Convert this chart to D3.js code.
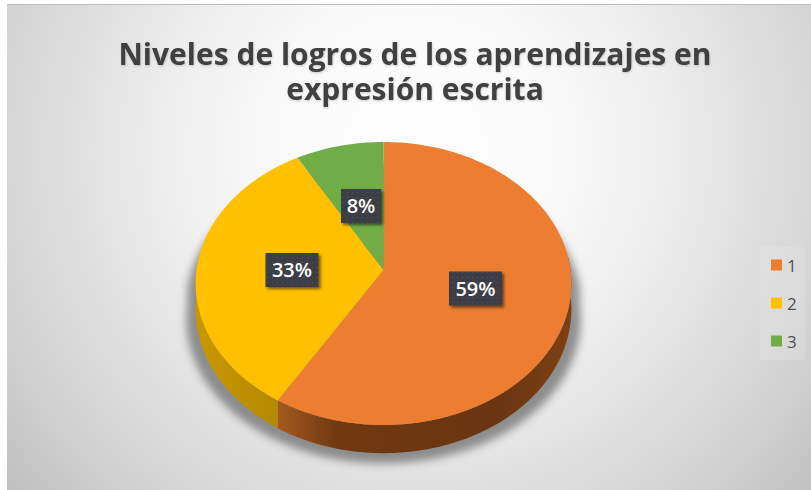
<!DOCTYPE html>
<html><head><meta charset="utf-8">
<script src="https://cdnjs.cloudflare.com/ajax/libs/d3/7.8.5/d3.min.js"></script>
<style>html,body{margin:0;padding:0;background:#fff}svg{display:block}</style>
</head><body><svg id="c" width="811" height="490"></svg>
<script>
const categories = ["1", "2", "3"];
const values = [58.7, 33, 8.3];
const labels = ["59%", "33%", "8%"];
const colors = ["#ed7d31", "#ffc000", "#70ad47"];
const titleLines = ["Niveles de logros de los aprendizajes en", "expresión escrita"];

const svg = d3.select("#c");
const defs = svg.append("defs");
const bg = defs.append("radialGradient").attr("id","bg").attr("gradientUnits","userSpaceOnUse")
  .attr("cx",415).attr("cy",150).attr("r",525);
[[0,"#ffffff"],[0.3,"#f8f8f8"],[0.5,"#ececec"],[0.68,"#dddddd"],[0.83,"#d2d2d2"],[1,"#c0c0c0"]]
  .forEach(s=>bg.append("stop").attr("offset",s[0]).attr("stop-color",s[1]));
const mk=(id,stops)=>{const g=defs.append("linearGradient").attr("id",id).attr("gradientUnits","userSpaceOnUse")
  .attr("x1",195).attr("x2",572).attr("y1",0).attr("y2",0);
  stops.forEach(s=>g.append("stop").attr("offset",s[0]).attr("stop-color",s[1]));};
mk("sideO",[[0.22,"#a5591f"],[0.38,"#70380f"],[0.8,"#6a3511"],[1,"#7d4014"]]);
mk("sideY",[[0,"#c99800"],[0.22,"#b48a00"]]);
defs.append("filter").attr("id","blur").attr("x","-20%").attr("y","-20%").attr("width","140%").attr("height","140%")
  .append("feGaussianBlur").attr("stdDeviation",4);
const ds=defs.append("filter").attr("id","ds").attr("x","-20%").attr("y","-20%").attr("width","150%").attr("height","150%");
ds.append("feDropShadow").attr("dx",2).attr("dy",2).attr("stdDeviation",1.6).attr("flood-color","#000").attr("flood-opacity",0.55);
const ts=defs.append("filter").attr("id","ts").attr("x","-5%").attr("y","-20%").attr("width","110%").attr("height","140%");
ts.append("feDropShadow").attr("dx",0.5).attr("dy",1).attr("stdDeviation",1).attr("flood-color","#000").attr("flood-opacity",0.2);
const pat=defs.append("pattern").attr("id","dots").attr("patternUnits","userSpaceOnUse").attr("width",5).attr("height",5);
pat.append("rect").attr("width",5).attr("height",5).attr("fill","#3c3e44");
pat.append("rect").attr("x",2).attr("y",2).attr("width",1).attr("height",1).attr("fill","#55585f");

svg.append("rect").attr("x",7).attr("y",4).attr("width",804).attr("height",486).attr("fill","url(#bg)");
svg.append("rect").attr("x",7).attr("y",4).attr("width",804).attr("height",1).attr("fill","#bdbdbd");

// Perspective disc
const cx=383.5, cy=270, R=187, S=140.2, k=0.0954, depth=25.5;
const proj=(a,r,d=0)=>{const u=Math.sin(a)*r, v=Math.cos(a)*r, w=1+k*v;
  return [cx+R*u/w, cy-S*v/w+d/w];};
const line=d3.line();
const arcs=d3.pie().sort(null).value(d=>d)(values);
const rim=(a0,a1,d=0)=>{const n=Math.max(2,Math.ceil(Math.abs(a1-a0)*60));
  return d3.range(n+1).map(i=>proj(a0+(a1-a0)*i/n,1,d));};

// ground shadow
const shadowPts=rim(Math.PI/2,Math.PI*1.5,depth+3).map(p=>[cx+(p[0]-cx)*1.05,p[1]+7])
  .concat(rim(-Math.PI/2,Math.PI/2,0).map(p=>[cx+(p[0]-cx)*1.05,p[1]+20]));
svg.append("path").attr("d",line(shadowPts)+"Z").attr("fill","#6e6e6e").attr("opacity",0.75).attr("filter","url(#blur)");

// walls (front half only)
const wallIds=["url(#sideO)","url(#sideY)",null];
arcs.forEach((s,i)=>{
  const a0=Math.max(s.startAngle,Math.PI/2-0.1), a1=Math.min(s.endAngle,Math.PI*1.5+0.1);
  if(a1<=a0||!wallIds[i])return;
  const pts=rim(a0,a1,0).concat(rim(a1,a0,depth));
  svg.append("path").attr("d",line(pts)+"Z").attr("fill",wallIds[i]);
});

// top faces
arcs.forEach((s,i)=>{
  const pts=[proj(0,0)].concat(rim(s.startAngle,s.endAngle));
  svg.append("path").attr("d",line(pts)+"Z").attr("fill",colors[i]);
});

// data labels
const labelPos=[[475.5,288.5],[292,270],[361,206]];
labels.forEach((t,i)=>{
  const w=i==2?40:53, h=34, p=labelPos[i];
  svg.append("rect").attr("x",p[0]-w/2).attr("y",p[1]-h/2).attr("width",w).attr("height",h)
    .attr("fill","url(#dots)").attr("filter","url(#ds)");
  svg.append("text").attr("x",p[0]).attr("y",p[1]+7).attr("text-anchor","middle")
    .attr("font-family","'Open Sans',sans-serif").attr("font-weight",600).attr("font-size",20).attr("fill","#fff").text(t);
});

// title
titleLines.forEach((t,i)=>{
  svg.append("text").attr("x",415).attr("y",[65,100][i]).attr("text-anchor","middle")
    .attr("font-family","'Open Sans',sans-serif").attr("font-weight",700).attr("font-size",30).attr("fill","#404040")
    .attr("filter","url(#ts)").text(t);
});

// legend
svg.append("rect").attr("x",760).attr("y",247).attr("width",45).attr("height",113).attr("fill","#ffffff").attr("opacity",0.12);
const ly=d3.scalePoint().domain(categories).range([265,341]);
categories.forEach((c,i)=>{
  svg.append("rect").attr("x",771).attr("y",ly(c)-5.5).attr("width",11).attr("height",11).attr("fill",colors[i]);
  svg.append("text").attr("x",787).attr("y",ly(c)+6.5).attr("font-family","'Open Sans',sans-serif").attr("font-size",17).attr("fill","#505050").text(c);
});
</script></body></html>
